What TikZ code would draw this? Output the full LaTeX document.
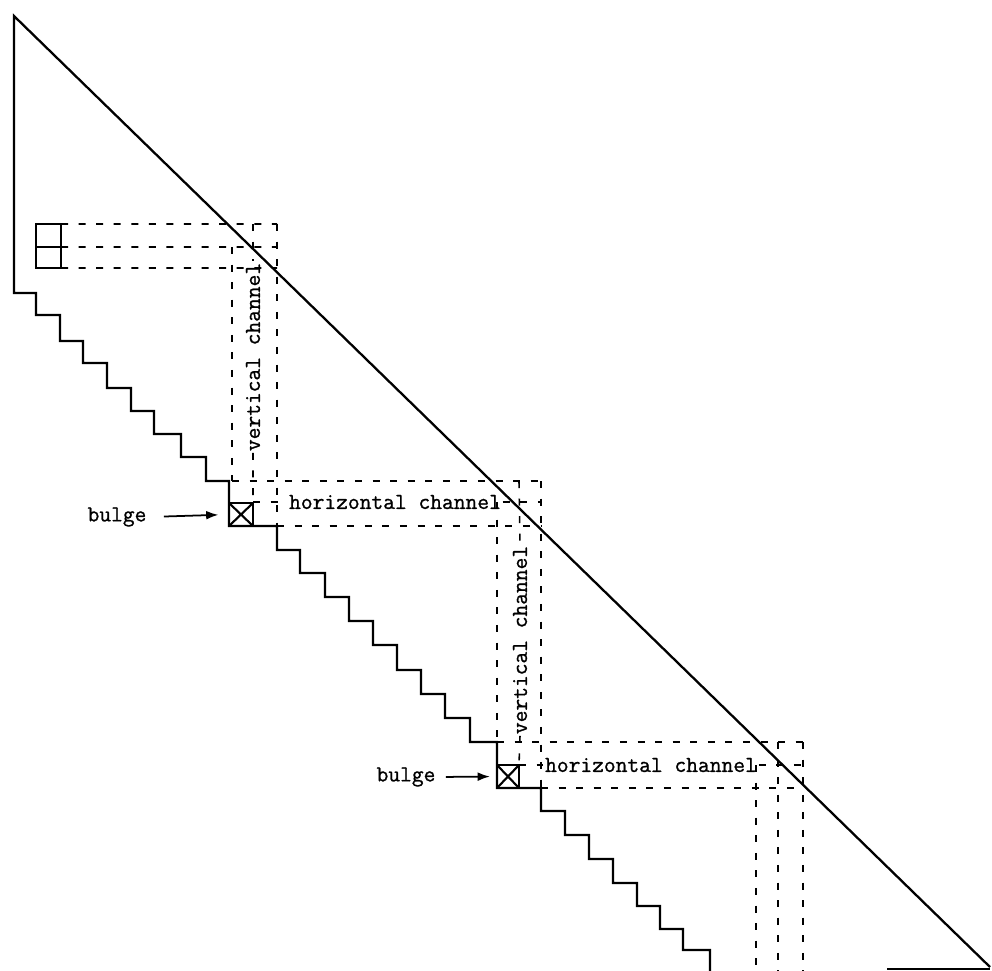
\documentclass[tikz,border=0pt]{standalone}
\usepackage{fontspec}
\newfontfamily\twfont{Latin Modern Mono}[FakeBold=1]
\usetikzlibrary{arrows.meta}
\tikzset{
  solidline/.style={line width=1.3pt, line join=miter},
  dashline/.style={line width=0.9pt, dash pattern=on 4pt off 6pt},
  lbl/.style={font=\fontsize{13}{15}\selectfont\twfont, inner sep=1pt, outer sep=0pt},
  cell/.style={draw, line width=1.3pt, inner sep=0pt, outer sep=0pt},
  bulgebox/.style={cell, path picture={\draw[line width=1.2pt]
      (path picture bounding box.north west) -- (path picture bounding box.south east)
      (path picture bounding box.south west) -- (path picture bounding box.north east);}},
  pointer/.style={line width=1pt, -{Latex[length=7pt,width=5pt]}}
}
\begin{document}
\begin{tikzpicture}[x=0.02cm,y=-0.02cm]
\useasboundingbox (0,0) rectangle (992,971);

% outline: diagonal, left edge and staircase
\draw[solidline] (990,967) -- (14,16) -- (14,293) -- (36,293) -- (36,315) -- (60,315) -- (60,341)
  -- (83,341) -- (83,363) -- (107,363) -- (107,388) -- (131,388) -- (131,411) -- (154,411)
  -- (154,434) -- (181,434) -- (181,457) -- (206,457) -- (206,481) -- (229,481) -- (229,526)
  -- (277,526) -- (277,550) -- (300,550) -- (300,573) -- (325,573) -- (325,597) -- (349,597)
  -- (349,621) -- (373,621) -- (373,645) -- (397,645) -- (397,670) -- (421,670) -- (421,694)
  -- (445,694) -- (445,718) -- (470,718) -- (470,742) -- (497,742) -- (497,788) -- (541,788)
  -- (541,811) -- (565,811) -- (565,835) -- (589,835) -- (589,859) -- (613,859) -- (613,883)
  -- (637,883) -- (637,906) -- (660,906) -- (660,929) -- (683,929) -- (683,950) -- (710,950)
  -- (710,971);
\draw[line width=0.8pt] (887,969) -- (990,969);

% top-left pair of cells
\node[cell, minimum width=0.5cm, minimum height=0.46cm] (c1) at (48.5,235.5) {};
\node[cell, minimum width=0.5cm, minimum height=0.42cm] (c2) at (48.5,257.5) {};

% bulges
\node[bulgebox, minimum width=0.48cm, minimum height=0.46cm] (b1) at (241,514.5) {};
\node[bulgebox, minimum width=0.44cm, minimum height=0.46cm] (b2) at (508,776.5) {};

% labels
\node[lbl] (bl1) at (117,517) {bulge};
\node[lbl] (bl2) at (406,777) {bulge};
\draw[pointer, shorten <=9pt, shorten >=6pt] (bl1.east) -- (b1.west);
\draw[pointer, shorten <=5pt, shorten >=4pt] (bl2.east) -- (b2.west);

\node[lbl, rotate=90] (v1) at (253,357) {vertical channel};
\node[lbl] (h1) at (395,502) {horizontal channel};
\node[lbl, rotate=90] (v2) at (520,640) {vertical channel};
\node[lbl] (h2) at (651,765) {horizontal channel};

% channel from the top-left cells
\draw[dashline] (c1.north east) -- (277,224);
\draw[dashline] (c1.south east) -- (277,247);
\draw[dashline] (c2.south east) -- (277,268);

% first vertical channel
\draw[dashline] (232,247) -- (232,481);
\draw[dashline] (253,224) -- (v1.east);
\draw[dashline] (v1.west) -- (b1.north east);
\draw[dashline] (277,224) -- (277,526);

% first horizontal channel
\draw[dashline] (232,481) -- (541,481);
\draw[dashline] (253,502) -- (h1.west);
\draw[dashline] (h1.east) -- (541,502);
\draw[dashline] (277,526) -- (541,526);

% second vertical channel
\draw[dashline] (497,502) -- (497,742);
\draw[dashline] (519,481) -- (v2.east);
\draw[dashline] (v2.west) -- (b2.north east);
\draw[dashline] (541,481) -- (541,788);

% second horizontal channel
\draw[dashline] (497,742) -- (803,742);
\draw[dashline] (519,765) -- (h2.west);
\draw[dashline] (h2.east) -- (803,765);
\draw[dashline] (541,788) -- (803,788);

% third vertical channel
\draw[dashline] (756,765) -- (756,971);
\draw[dashline] (778,742) -- (778,971);
\draw[dashline] (803,742) -- (803,971);
\end{tikzpicture}
\end{document}
